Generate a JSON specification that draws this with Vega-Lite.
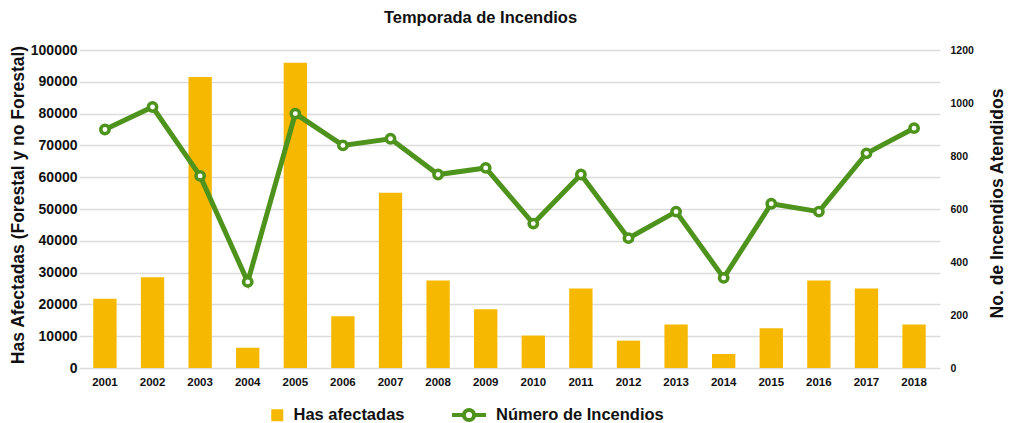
{
  "$schema": "https://vega.github.io/schema/vega-lite/v6.json",
  "autosize": {"type": "none"},
  "padding": {"left": 79, "top": 50, "right": 69, "bottom": 55},
  "width": 861,
  "height": 318,
  "background": "white",
  "config": {
    "font": "Liberation Sans",
    "view": {"stroke": null},
    "axis": {"labelColor": "#111", "titleColor": "#111"}
  },
  "title": {
    "text": "Temporada de Incendios",
    "fontSize": 16.5,
    "fontWeight": "bold",
    "font": "Liberation Sans",
    "color": "#111",
    "anchor": "middle",
    "frame": "group",
    "dx": -29,
    "offset": 17
  },
  "data": {
    "values": [
      {"year": "2001", "area": 21800, "fires": 900},
      {"year": "2002", "area": 28500, "fires": 985},
      {"year": "2003", "area": 91500, "fires": 725},
      {"year": "2004", "area": 6400, "fires": 325},
      {"year": "2005", "area": 96000, "fires": 960},
      {"year": "2006", "area": 16300, "fires": 840},
      {"year": "2007", "area": 55100, "fires": 865},
      {"year": "2008", "area": 27500, "fires": 730},
      {"year": "2009", "area": 18500, "fires": 755},
      {"year": "2010", "area": 10200, "fires": 545},
      {"year": "2011", "area": 25000, "fires": 730},
      {"year": "2012", "area": 8600, "fires": 490},
      {"year": "2013", "area": 13700, "fires": 590},
      {"year": "2014", "area": 4400, "fires": 340},
      {"year": "2015", "area": 12500, "fires": 620},
      {"year": "2016", "area": 27500, "fires": 590},
      {"year": "2017", "area": 25000, "fires": 810},
      {"year": "2018", "area": 13700, "fires": 905}
    ]
  },
  "encoding": {
    "x": {
      "field": "year",
      "type": "ordinal",
      "scale": {"paddingInner": 0.51, "paddingOuter": 0.3},
      "axis": {
        "title": null,
        "labelAngle": 0,
        "ticks": false,
        "domain": false,
        "labelPadding": 8,
        "labelFont": "Liberation Sans",
        "labelFontSize": 11.5,
        "labelFontWeight": "bold"
      }
    }
  },
  "layer": [
    {
      "mark": {"type": "bar"},
      "encoding": {
        "y": {
          "field": "area",
          "type": "quantitative",
          "scale": {"domain": [0, 100000], "nice": false},
          "axis": {
            "title": "Has Afectadas (Forestal y no Forestal)",
            "titleFontSize": 17.5,
            "titleFontWeight": "bold",
            "titleX": -61,
            "titleY": 154.5,
            "titleAngle": -90,
            "titleAlign": "center",
            "titleBaseline": "middle",
            "values": [0, 10000, 20000, 30000, 40000, 50000, 60000, 70000, 80000, 90000, 100000],
            "format": "d",
            "ticks": false,
            "domain": false,
            "labelPadding": 2,
            "labelFontSize": 14,
            "labelFontWeight": "bold",
            "grid": true,
            "gridColor": "#dcdcdc",
            "gridWidth": 1.7
          }
        },
        "fill": {
          "datum": "Has afectadas",
          "scale": {"range": ["#F6B800"]},
          "legend": {
            "title": null,
            "orient": "none",
            "legendX": 190,
            "legendY": 357,
            "padding": 0,
            "symbolType": "square",
            "symbolSize": 144,
            "symbolStrokeWidth": 0,
            "labelFontSize": 16.5,
            "labelFontWeight": "bold",
            "labelColor": "#111",
            "labelOffset": 8,
            "labelLimit": 400
          }
        }
      }
    },
    {
      "layer": [
        {
          "mark": {"type": "line", "strokeWidth": 5},
          "encoding": {
            "y": {
              "field": "fires",
              "type": "quantitative",
              "scale": {"domain": [0, 1200], "nice": false},
              "axis": {
                "orient": "right",
                "title": "No. de Incendios Atendidos",
                "titleFontSize": 17.5,
                "titleFontWeight": "bold",
                "titleX": 57,
                "titleY": 153,
                "titleAngle": -90,
                "titleAlign": "center",
                "titleBaseline": "middle",
                "values": [0, 200, 400, 600, 800, 1000, 1200],
                "format": "d",
                "ticks": false,
                "domain": false,
                "grid": false,
                "labelPadding": 10,
                "labelFontSize": 10.5,
                "labelFontWeight": "bold"
              }
            },
            "stroke": {
              "datum": "Número de Incendios",
              "scale": {"range": ["#4D931C"]},
              "legend": {
                "title": null,
                "orient": "none",
                "legendX": 371,
                "legendY": 346,
                "padding": 0,
                "symbolType": "M-1,0H-0.3M0.3,0H1M0.3,0A0.3,0.3,0,1,1,-0.3,0A0.3,0.3,0,1,1,0.3,0Z",
                "symbolSize": 1156,
                "symbolStrokeWidth": 4,
                "symbolFillColor": "white",
                "labelFontSize": 16.5,
                "labelFontWeight": "bold",
                "labelColor": "#111",
                "labelOffset": 8,
                "labelLimit": 400
              }
            }
          }
        },
        {
          "mark": {"type": "point", "filled": true, "fill": "white", "stroke": "#4D931C", "strokeWidth": 3.5, "size": 70, "opacity": 1},
          "encoding": {
            "y": {"field": "fires", "type": "quantitative"}
          }
        }
      ]
    }
  ],
  "resolve": {"scale": {"y": "independent"}}
}
